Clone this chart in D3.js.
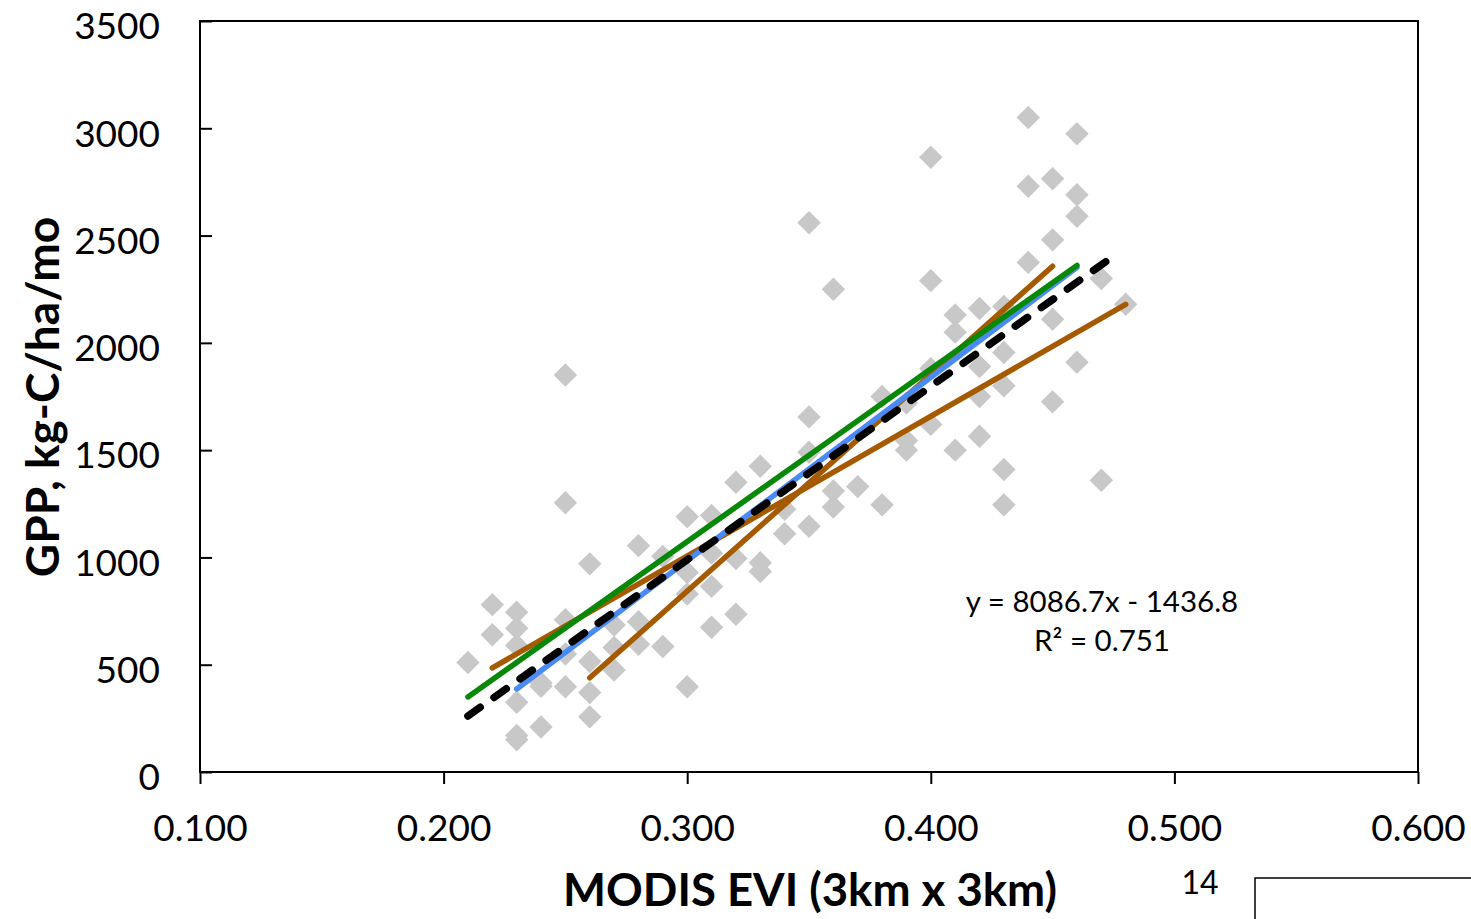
<!DOCTYPE html>
<html>
<head>
<meta charset="utf-8">
<script src="https://d3js.org/d3.v7.min.js"></script>
<style>
  body { margin: 0; background: #fff; }
  text { font-family: Lato, "Open Sans", sans-serif; fill: #000; }
</style>
</head>
<body>
<div id="chart"></div>
<script>
// EVI values (x) and GPP values (y) of the monthly points
var eviValues = [
  0.21,
  0.22, 0.22,
  0.23, 0.23, 0.23, 0.23, 0.23, 0.23,
  0.24, 0.24, 0.24,
  0.25, 0.25, 0.25, 0.25, 0.25,
  0.26, 0.26, 0.26, 0.26,
  0.27, 0.27, 0.27,
  0.28, 0.28, 0.28,
  0.29, 0.29,
  0.30, 0.30, 0.30, 0.30,
  0.31, 0.31, 0.31, 0.31,
  0.32, 0.32, 0.32,
  0.33, 0.33, 0.33,
  0.34, 0.34,
  0.35, 0.35, 0.35, 0.35,
  0.36, 0.36, 0.36,
  0.37,
  0.38, 0.38,
  0.39, 0.39, 0.39,
  0.40, 0.40, 0.40, 0.40,
  0.41, 0.41, 0.41,
  0.42, 0.42, 0.42, 0.42,
  0.43, 0.43, 0.43, 0.43, 0.43,
  0.44, 0.44, 0.44,
  0.45, 0.45, 0.45, 0.45,
  0.46, 0.46, 0.46, 0.46,
  0.47, 0.47,
  0.48
];
var gppValues = [
  510,
  780, 640,
  745, 670, 590, 325, 170, 150,
  415, 400, 210,
  1850, 1255, 710, 550, 397,
  970, 515, 370, 257,
  685, 580, 475,
  1055, 700, 595,
  1005, 585,
  1190, 930, 830, 397,
  1195, 1020, 865, 675,
  1350, 995, 735,
  1425, 975, 935,
  1225, 1110,
  2560, 1655, 1490, 1145,
  2250, 1310, 1235,
  1330,
  1750, 1245,
  1720, 1545, 1500,
  2865, 2290, 1880, 1620,
  2130, 2050, 1500,
  2160, 1890, 1750, 1565,
  2170, 1955, 1800, 1410, 1245,
  3050, 2730, 2375,
  2765, 2480, 2110, 1725,
  2975, 2690, 2590, 1910,
  2300, 1360,
  2180
];

// trend lines: [start, end]
var fitLineX = [0.21, 0.475];
var fitLineY = [261, 2404];
var blueLineX = [0.23, 0.46];
var blueLineY = [387, 2352];
var greenLineX = [0.21, 0.46];
var greenLineY = [350, 2361];
var brownLineAX = [0.22, 0.48];
var brownLineAY = [485, 2179];
var brownLineBX = [0.26, 0.45];
var brownLineBY = [439, 2357];

var xTicks = [0.1, 0.2, 0.3, 0.4, 0.5, 0.6];
var yTicks = [0, 500, 1000, 1500, 2000, 2500, 3000, 3500];

var equationText = "y = 8086.7x - 1436.8";
var rSquaredText = "R\u00b2 = 0.751";
var xTitle = "MODIS EVI (3km x 3km)";
var yTitle = "GPP, kg-C/ha/mo";
var pageNumber = "14";

function init(){
  var w = 1471;
  var h = 919;
  var left = 200, right = 1418, top = 21, bottom = 772;

  var svg = d3.select("#chart")
    .append("svg")
    .attr("width", w)
    .attr("height", h);

  var xScale = d3.scaleLinear().domain([0.1, 0.6]).range([left, right]);
  var yScale = d3.scaleLinear().domain([0, 3500]).range([bottom, top]);

  // plot frame
  svg.append("rect")
    .attr("x", left).attr("y", top)
    .attr("width", right - left).attr("height", bottom - top)
    .attr("fill", "none").attr("stroke", "#000").attr("stroke-width", 2);

  var xAxis = d3.axisBottom(xScale).tickValues(xTicks).tickSize(12).tickPadding(31)
    .tickFormat(d3.format(".3f"));
  var yAxis = d3.axisLeft(yScale).tickValues(yTicks).tickSizeInner(-12).tickSizeOuter(0).tickPadding(40)
    .tickFormat(d3.format("d"));

  var gx = svg.append("g")
    .attr("transform", "translate(0," + bottom + ")")
    .call(xAxis);
  gx.select(".domain").remove();
  gx.selectAll("line").attr("stroke", "#000").attr("stroke-width", 2);
  gx.selectAll("text").style("font-size", "37px").attr("dy", "0.71em");

  var gy = svg.append("g")
    .attr("transform", "translate(" + left + ",0)")
    .call(yAxis);
  gy.select(".domain").remove();
  gy.selectAll("line").attr("stroke", "#000").attr("stroke-width", 2);
  gy.selectAll("text").style("font-size", "37px").attr("dy", "0.48em");

  // points
  var points = eviValues.map(function(d, i){ return {x: d, y: gppValues[i]}; });
  var diamond = d3.symbol().type(d3.symbolSquare).size(275);
  svg.append("g").selectAll("path")
    .data(points)
    .enter().append("path")
    .attr("d", diamond)
    .attr("transform", function(d){
      return "translate(" + xScale(d.x) + "," + yScale(d.y) + ") rotate(45)";
    })
    .attr("fill", "#c8c8c8");

  var line = d3.line()
    .x(function(d){ return xScale(d[0]); })
    .y(function(d){ return yScale(d[1]); });

  function trend(xs, ys, colour, width, dash){
    var p = svg.append("path")
      .datum(xs.map(function(d, i){ return [d, ys[i]]; }))
      .attr("d", line)
      .attr("fill", "none")
      .attr("stroke", colour)
      .attr("stroke-width", width)
      .attr("stroke-linecap", "round");
    if (dash) p.attr("stroke-dasharray", dash);
  }

  trend(brownLineAX, brownLineAY, "#a65a00", 5.5);
  trend(brownLineBX, brownLineBY, "#a65a00", 5.5);
  trend(blueLineX, blueLineY, "#4a8af4", 5.5);
  trend(greenLineX, greenLineY, "#078807", 5.5);
  trend(fitLineX, fitLineY, "#000", 7.5, "15,17");

  // equation
  svg.append("text").attr("x", 1102).attr("y", 612)
    .attr("text-anchor", "middle").style("font-size", "29.5px").text(equationText);
  svg.append("text").attr("x", 1102).attr("y", 651)
    .attr("text-anchor", "middle").style("font-size", "29.5px").text(rSquaredText);

  // axis titles
  svg.append("text").attr("x", 810).attr("y", 906)
    .attr("text-anchor", "middle").style("font-size", "45.5px").style("font-weight", "bold")
    .text(xTitle);
  svg.append("text")
    .attr("transform", "translate(59,397) rotate(-90)")
    .attr("text-anchor", "middle").style("font-size", "46px").style("font-weight", "bold")
    .text(yTitle);

  // page footer bits
  svg.append("text").attr("x", 1200).attr("y", 894)
    .attr("text-anchor", "middle").style("font-size", "32px").text(pageNumber);
  svg.append("path")
    .attr("d", "M1255," + h + "V878H" + w)
    .attr("fill", "none").attr("stroke", "#000").attr("stroke-width", 1.5);
}

window.onload = init;
</script>
</body>
</html>
